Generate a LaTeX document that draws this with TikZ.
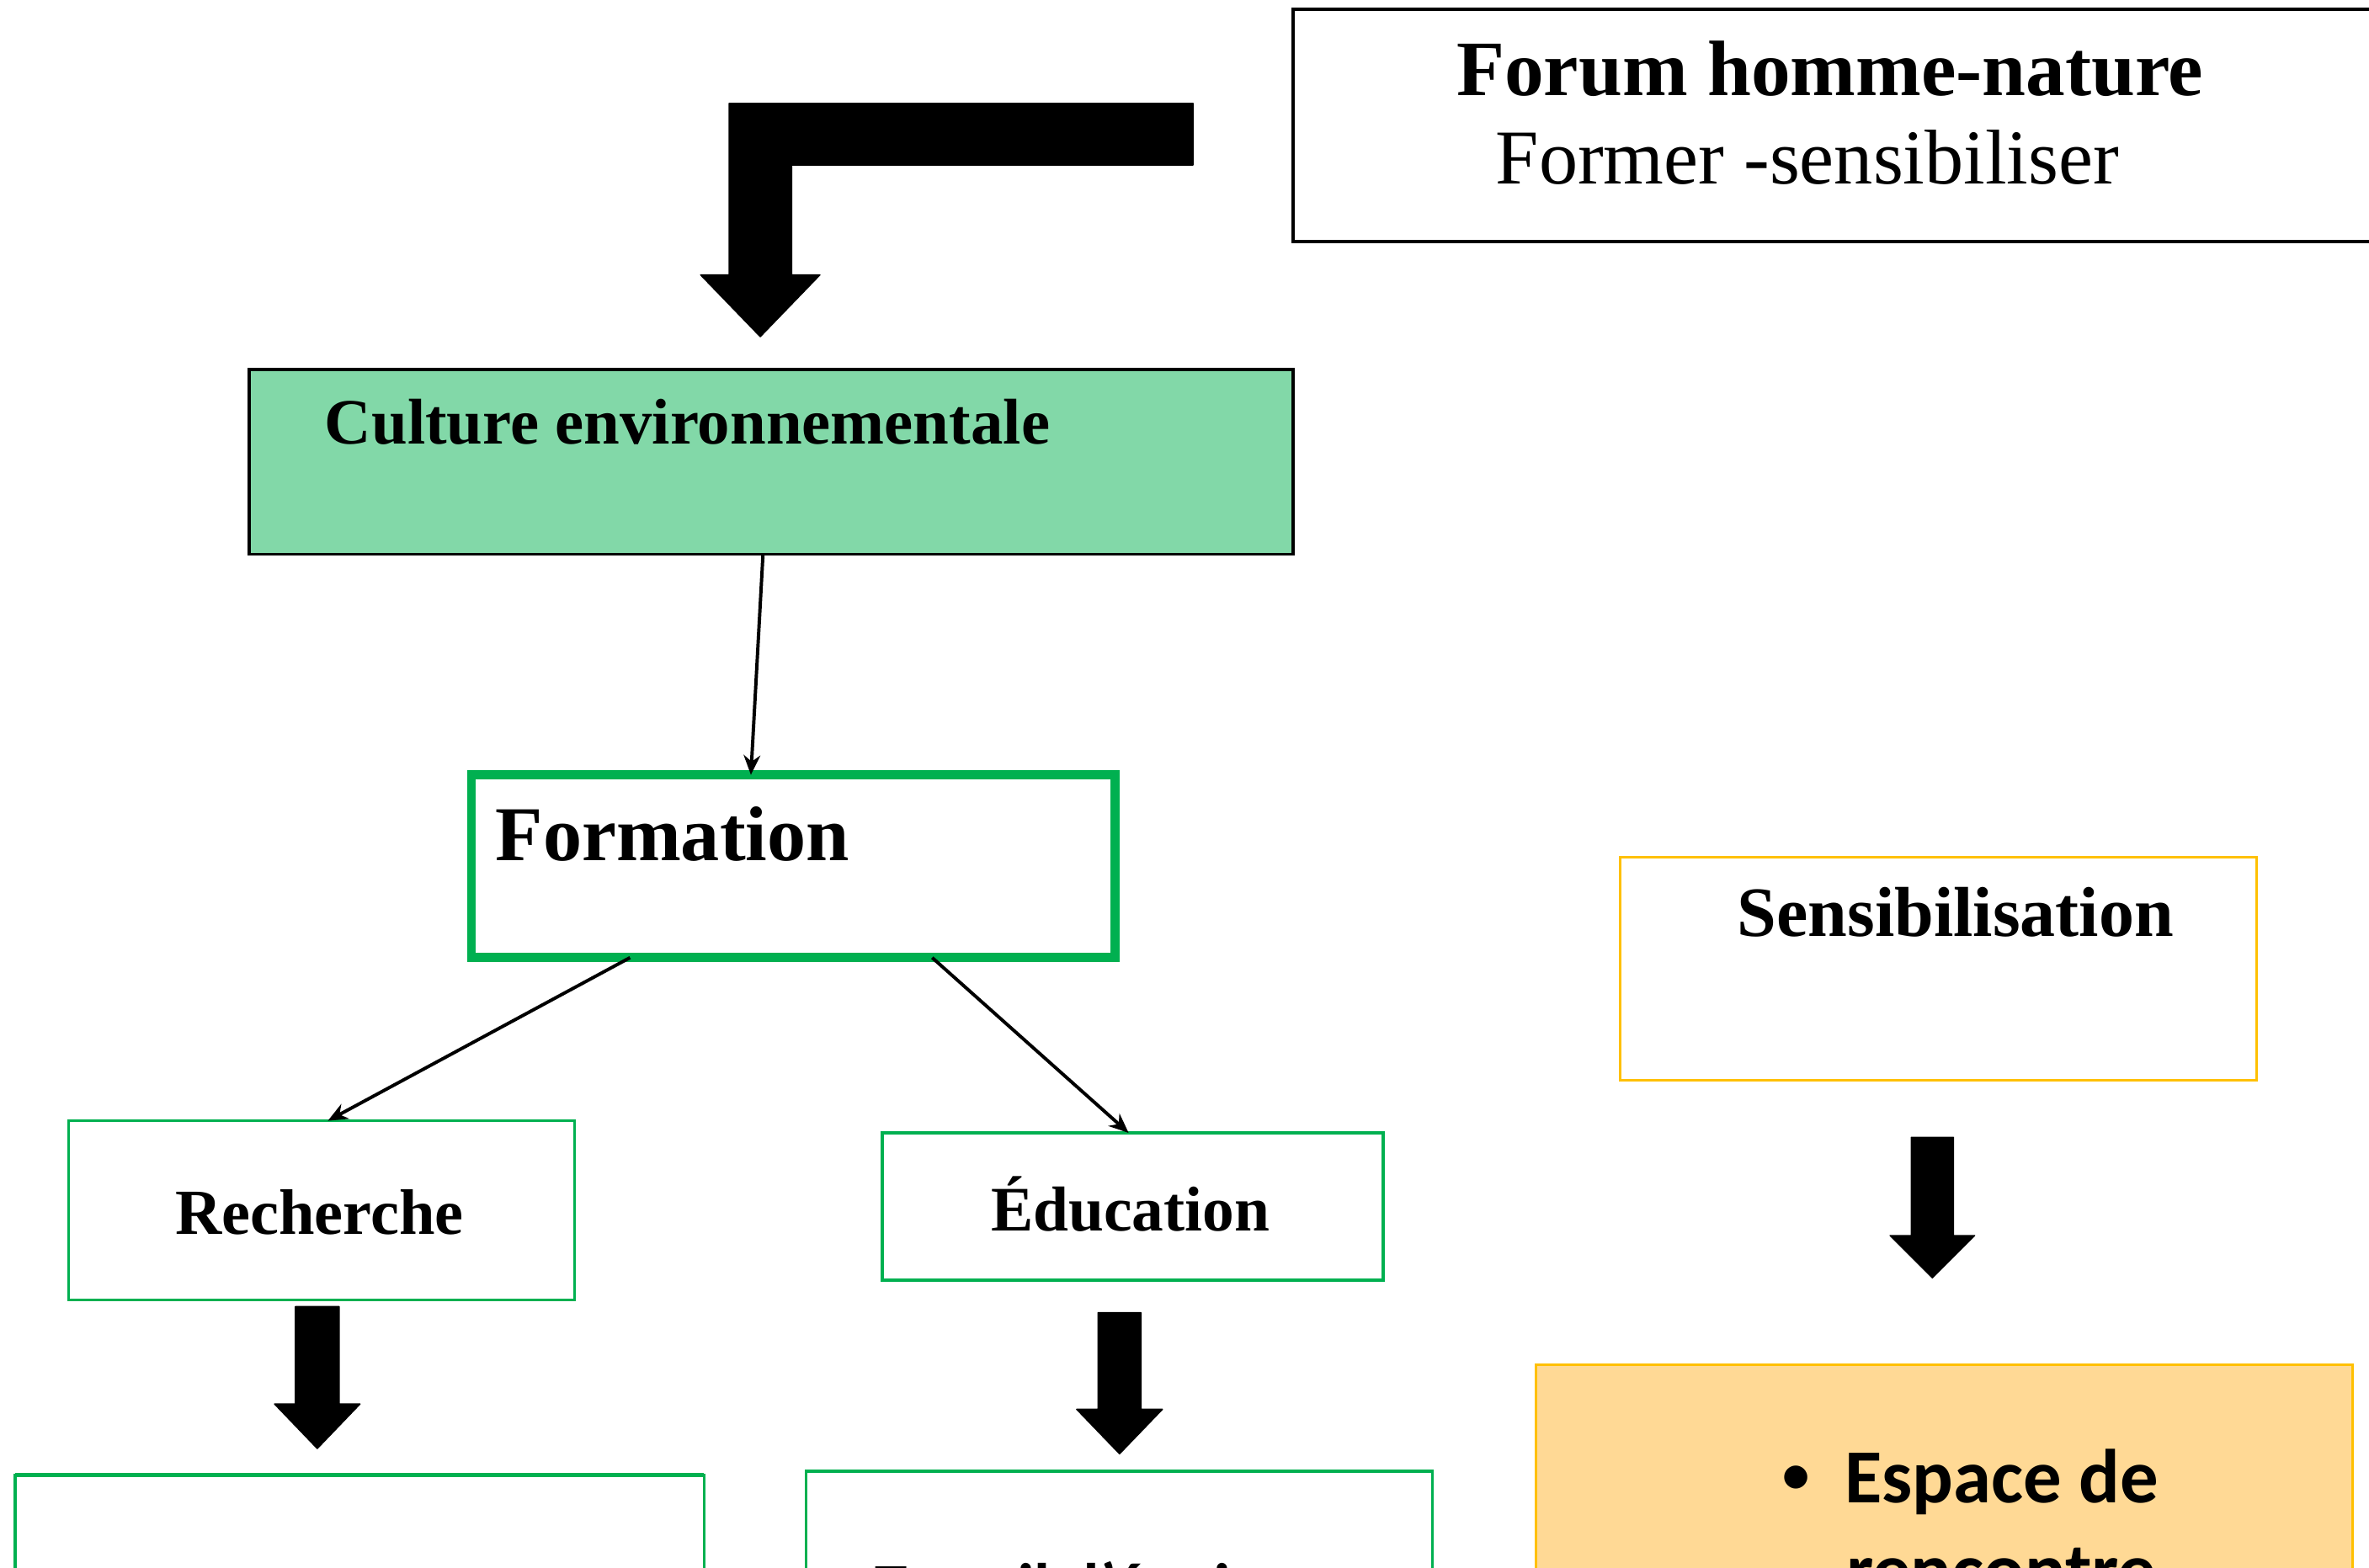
\documentclass[tikz,border=0pt]{standalone}
\usepackage{fontspec}
\setmainfont{Liberation Serif}
\newfontfamily\calibfont{Carlito}
\usetikzlibrary{arrows.meta}
\definecolor{cultgreen}{HTML}{82D8A8}
\definecolor{offgreen}{HTML}{00B050}
\definecolor{offgold}{HTML}{FFC000}
\definecolor{peach}{HTML}{FFD995}
\newcommand{\blockdown}[6]{% cx, ytop, yhead, ytip, halfshaft, halfhead
  \fill[blockarrow] (#1-#5,#2) -- (#1+#5,#2) -- (#1+#5,#3) -- (#1+#6,#3) -- (#1,#4)
     -- (#1-#6,#3) -- (#1-#5,#3) -- cycle;}
\begin{document}
\begin{tikzpicture}[x=0.5pt,y=-0.5pt,
  box/.style={rectangle, inner sep=0pt, outer sep=0pt, draw},
  greenbox/.style={box, draw=offgreen, line width=0.9pt},
  txt/.style={inner sep=0pt, outer sep=0pt, anchor=base west},
  thinarrow/.style={line width=1.1pt, -{Stealth[length=6.5pt,width=5.5pt]}},
  blockarrow/.style={fill=black, draw=black, line width=0.4pt, line join=round}]
\useasboundingbox (0,0) rectangle (1568,1038);
\clip (0,0) rectangle (1568,1038);

% boxes
\node[box, line width=1pt, minimum width=372pt, minimum height=77pt] (forum) at (1228,83) {};
\node[box, line width=1pt, fill=cultgreen, minimum width=345.5pt, minimum height=61.25pt] (culture) at (510.5,305.75) {};
\node[box, draw=offgreen, line width=3pt, minimum width=213pt, minimum height=60.5pt] (formation) at (525,573.5) {};
\node[greenbox, minimum width=167.5pt, minimum height=59.25pt] (recherche) at (213,801.25) {};
\node[greenbox, minimum width=165.75pt, minimum height=48.75pt] (education) at (749.75,798.75) {};
\node[box, draw=offgold, line width=0.9pt, minimum width=210.5pt, minimum height=73.75pt] (sensib) at (1283,641.25) {};
\node[box, draw=offgold, fill=peach, line width=0.9pt, minimum width=270.25pt, minimum height=98.25pt] (espace) at (1286.75,1001.75) {};
\node[greenbox, minimum width=228pt, minimum height=61.75pt] (leftbottom) at (238,1038.25) {};
\node[greenbox, minimum width=207.25pt, minimum height=63pt] (midbottom) at (740.75,1037) {};
\draw[offgreen, line width=1.2pt] (leftbottom.north west) -- (leftbottom.north east);
\draw[offgreen, line width=1.2pt] (midbottom.north west) -- (midbottom.north east);

% texts
\node[txt, font=\bfseries\fontsize{26pt}{30pt}\selectfont] (forumA) at (964,63.5) {Forum homme-nature};
\node[txt, font=\fontsize{25.7pt}{30pt}\selectfont] (forumB) at (990,122) {Former -sensibiliser};
\node[txt, font=\bfseries\fontsize{21.4pt}{25pt}\selectfont] (cultureT) at (215,294) {Culture environnementale};
\node[txt, font=\bfseries\fontsize{25.7pt}{30pt}\selectfont] (formationT) at (328,570) {Formation};
\node[txt, font=\bfseries\fontsize{21.3pt}{25pt}\selectfont] (rechercheT) at (116,817) {Recherche};
\node[txt, font=\bfseries\fontsize{21pt}{25pt}\selectfont] (educationT) at (656,815) {Éducation};
\node[txt, font=\bfseries\fontsize{23.4pt}{28pt}\selectfont] (sensibT) at (1150,620) {Sensibilisation};
\node[inner sep=0pt, anchor=base, font=\calibfont\bfseries\fontsize{18pt}{22pt}\selectfont] (bullet) at (1189,988) {•};
\node[txt, font=\calibfont\bfseries\fontsize{25.3pt}{30pt}\selectfont] (espaceA) at (1221,995) {Espace de};
\node[txt, font=\calibfont\bfseries\fontsize{25.3pt}{30pt}\selectfont] (espaceB) at (1222,1057) {rencontre};
\node[txt, font=\calibfont\bfseries\fontsize{21.5pt}{26pt}\selectfont] (travailT) at (579,1065) {Travail d’équipe};

% thin connectors
\draw[thinarrow] ([xshift=170pt]culture.south west) -- ([xshift=92.5pt]formation.north west);
\draw[thinarrow] ([xshift=52.5pt]formation.south west) -- ([xshift=85.75pt]recherche.north west);
\draw[thinarrow] ([xshift=152.5pt]formation.south west) -- ([xshift=81.5pt]education.north west);

% bent block arrow
\fill[blockarrow] (482.6,68.4) -- (789.6,68.4) -- (789.6,109.3) -- (524,109.3) -- (524,182)
  -- (542.7,182) -- (503.2,222.9) -- (463.7,182) -- (482.6,182) -- cycle;

% block down arrows
\blockdown{210}{865}{929.5}{959}{14.5}{28.3}
\blockdown{741}{869}{933}{962.5}{14.2}{28.4}
\blockdown{1279}{753}{818}{846}{14}{28}
\end{tikzpicture}
\end{document}
